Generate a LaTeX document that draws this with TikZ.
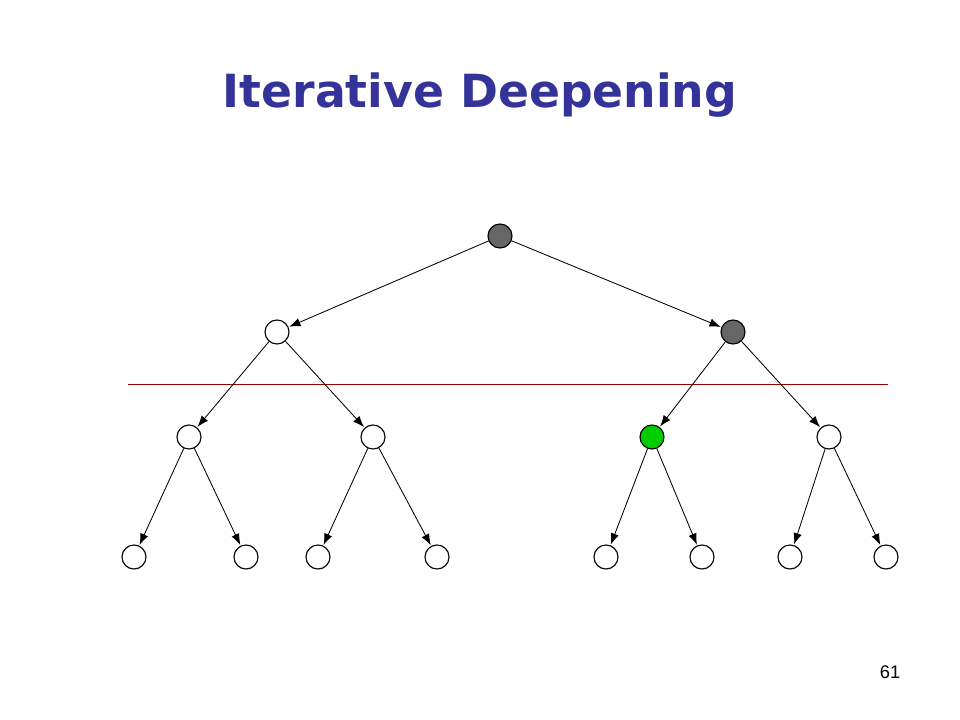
\documentclass[tikz,border=0pt]{standalone}
\usepackage{fontspec}
\setmainfont{Liberation Sans}
\newfontfamily\titlefont{DejaVu Sans}
\usetikzlibrary{arrows.meta}
\definecolor{titleblue}{RGB}{51,51,153}
\definecolor{nodegrey}{RGB}{102,102,102}
\definecolor{goalgreen}{RGB}{0,204,0}
\definecolor{cutred}{RGB}{153,0,0}
\begin{document}
\begin{tikzpicture}[x=0.025cm,y=-0.025cm,->,>={Latex[length=8pt,width=6pt]},line width=0.6pt,
    vertex/.style={circle,draw,-,line width=0.8pt,fill=white,inner sep=0pt,minimum size=0.6cm},
    visited/.style={vertex,fill=nodegrey},
    goal/.style={vertex,fill=goalgreen},
    edge/.style={shorten >=0.5pt}]
                \useasboundingbox (0,0) rectangle (960,720);
                \node (title) at (480,95) {\titlefont\fontsize{32.5}{38}\selectfont\bfseries\color{titleblue}Iterative Deepening};
                \node (page) at (890,672) {\fontsize{13}{15}\selectfont 61};
                \draw[-,cutred,line width=0.6pt] (128,384) coordinate (cutl) -- (888,384) coordinate (cutr);
                % level 0 and 1
                \node[visited] (r) at (500,236) {};
                \node[vertex] (a) at (277,332) {};
                \node[visited] (b) at (733,332) {};
                % level 2
                \node[vertex] (aa) at (189,437) {};
                \node[vertex] (ab) at (373,437) {};
                \node[goal] (ba) at (652,437) {};
                \node[vertex] (bb) at (829,437) {};
                % level 3
                \node[vertex] (aaa) at (134,557) {};
                \node[vertex] (aab) at (246,557) {};
                \node[vertex] (aba) at (318,557) {};
                \node[vertex] (abb) at (437,557) {};
                \node[vertex] (baa) at (606,557) {};
                \node[vertex] (bab) at (702,557) {};
                \node[vertex] (bba) at (790,557) {};
                \node[vertex] (bbb) at (886,557) {};
                \draw[edge] (r)--(a);
                \draw[edge] (r)--(b);
                \draw[edge] (a)--(aa);
                \draw[edge] (a)--(ab);
                \draw[edge] (b)--(ba);
                \draw[edge] (b)--(bb);
                \draw[edge] (aa)--(aaa);
                \draw[edge] (aa)--(aab);
                \draw[edge] (ab)--(aba);
                \draw[edge] (ab)--(abb);
                \draw[edge] (ba)--(baa);
                \draw[edge] (ba)--(bab);
                \draw[edge] (bb)--(bba);
                \draw[edge] (bb)--(bbb);
            \end{tikzpicture}
\end{document}
